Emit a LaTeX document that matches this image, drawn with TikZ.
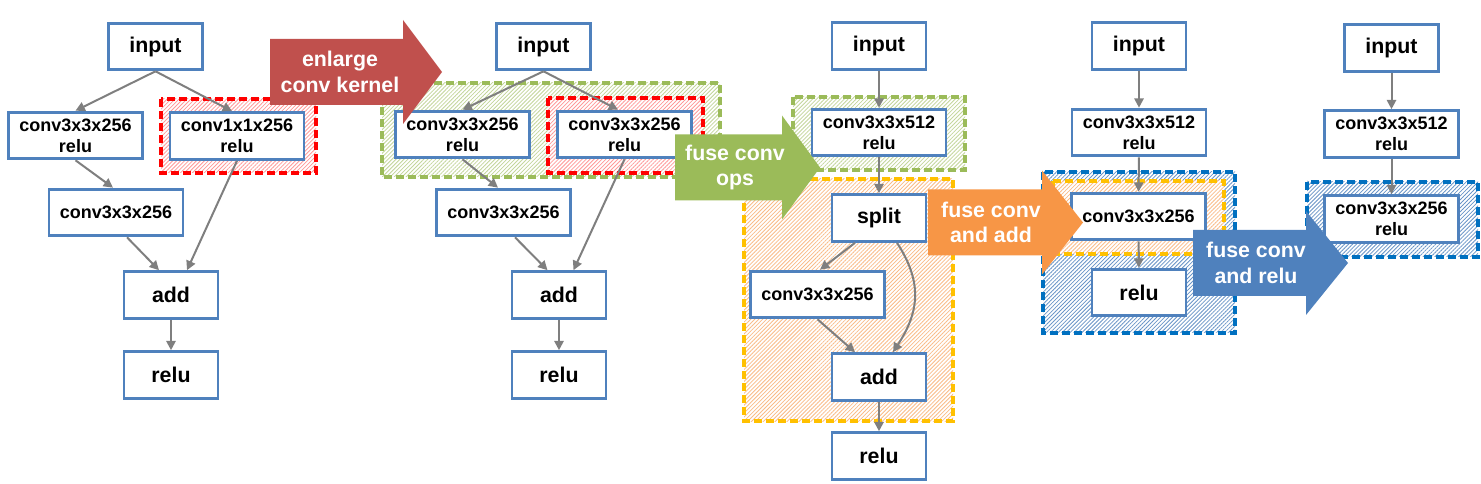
\documentclass[tikz,border=0pt]{standalone}
\usepackage{fontspec}
\setmainfont{Liberation Sans}
\usetikzlibrary{arrows.meta,calc,patterns.meta}

\definecolor{boxblue}{HTML}{4F81BD}
\definecolor{linegray}{HTML}{7F7F7F}
\definecolor{kernred}{HTML}{C0504D}
\definecolor{fusegreen}{HTML}{9BBB59}
\definecolor{fuseorange}{HTML}{F79646}
\definecolor{groupred}{HTML}{FF0000}
\definecolor{groupyellow}{HTML}{FFC000}
\definecolor{groupblue}{HTML}{0070C0}

\tikzset{
  op/.style={draw=boxblue, line width=2.2pt, fill=white, inner sep=0pt, align=center,
    font=\bfseries\fontsize{16}{19}\selectfont, minimum width=70.5pt, minimum height=35pt},
  conv/.style={op, font=\bfseries\fontsize{13.5}{15.5}\selectfont, minimum width=100.5pt},
  flow/.style={-{Triangle[length=7pt,width=7pt]}, draw=linegray, line width=1.5pt},
  groupbox/.style={dash pattern=on 6pt off 3pt, line width=2.3pt, preaction={fill=white}},
  hatch/.style={pattern={Lines[angle=45,distance=2.1pt,line width=0.6pt]}, pattern color=#1},
  bigtext/.style={text=white, align=center, inner sep=0pt, font=\bfseries\fontsize{16}{19}\selectfont}
}

\begin{document}
\begin{tikzpicture}[x=0.75pt, y=-0.75pt]
        \useasboundingbox (0,0) rectangle (1481,484);

        % fused groups
        \draw[groupbox, draw=groupred, hatch=groupred!40] (161,99) rectangle (316,173);
        \draw[groupbox, draw=fusegreen, hatch=fusegreen!60] (382,83) rectangle (720,177);
        \draw[groupbox, draw=groupred, hatch=groupred!40] (548,98) rectangle (703,173);
        \draw[groupbox, draw=fusegreen, hatch=fusegreen!60] (793,97) rectangle (965,170);
        \draw[groupbox, draw=groupyellow, hatch=fuseorange!65] (744,179) rectangle (953,421);
        \draw[groupbox, draw=groupblue, hatch=boxblue!85] (1043,172) rectangle (1235,333);
        \draw[groupbox, draw=groupyellow, hatch=fuseorange!65] (1053,181) rectangle (1224,254);
        \draw[groupbox, draw=groupblue, hatch=boxblue!85] (1307,182) rectangle (1478,257);

        % original graph
        \node[op] (in1) at (155.5,46.5) {input};
        \node[conv] (cl1) at (75.5,135.5) {conv3x3x256\\relu};
        \node[conv] (ck1) at (237,136) {conv1x1x256\\relu};
        \node[conv] (cm1) at (116,212.5) {conv3x3x256};
        \node[op] (add1) at (171,295) {add};
        \node[op] (relu1) at (171,375) {relu};

        \draw[flow] (in1.south) -- (cl1.north);
        \draw[flow] (in1.south) -- ($(ck1.north)+(-5,0)$);
        \draw[flow] (cl1.south) -- ($(cm1.north)+(-3,0)$);
        \draw[flow] ($(cm1.south)+(11,0)$) -- ($(add1.north)+(-12,0)$);
        \draw[flow] (ck1.south) -- ($(add1.north)+(16,0)$);
        \draw[flow] (add1) -- (relu1);

        % enlarged kernel
        \node[op] (in2) at (543.5,46.5) {input};
        \node[conv] (cl2) at (462.5,134.5) {conv3x3x256\\relu};
        \node[conv] (cr2) at (624.5,134.5) {conv3x3x256\\relu};
        \node[conv] (cm2) at (503.5,212.5) {conv3x3x256};
        \node[op] (add2) at (559,295) {add};
        \node[op] (relu2) at (559,375) {relu};

        \draw[flow] (in2.south) -- (cl2.north);
        \draw[flow] (in2.south) -- ($(cr2.north)+(-6.5,0)$);
        \draw[flow] (cl2.south) -- ($(cm2.north)+(-5.5,0)$);
        \draw[flow] ($(cm2.south)+(11.5,0)$) -- ($(add2.north)+(-11.5,0)$);
        \draw[flow] (cr2.south) -- ($(add2.north)+(14.5,0)$);
        \draw[flow] (add2) -- (relu2);

        % fused conv ops
        \node[op] (in3) at (879,46) {input};
        \node[conv] (cv3) at (879,132.5) {conv3x3x512\\relu};
        \node[op] (split3) at (879,218) {split};
        \node[conv] (cs3) at (817.5,294.5) {conv3x3x256};
        \node[op] (add3) at (879,377) {add};
        \node[op] (relu3) at (879,456) {relu};

        \draw[flow] (in3) -- (cv3);
        \draw[flow] (cv3) -- (split3);
        \draw[flow] ($(split3.south)+(-24,0)$) -- ($(cs3.north)+(2.5,0)$);
        \draw[flow] ($(split3.south)+(18,0)$) .. controls +(26,40) and +(26,-40) .. ($(add3.north)+(14,0)$);
        \draw[flow] (cs3.south) -- ($(add3.north)+(-24,0)$);
        \draw[flow] (add3) -- (relu3);

        % fused conv and add
        \node[op] (in4) at (1139,46) {input};
        \node[conv] (cv4) at (1139,132.5) {conv3x3x512\\relu};
        \node[conv] (cs4) at (1138.5,216.5) {conv3x3x256};
        \node[op] (relu4) at (1139,292.5) {relu};

        \draw[flow] (in4) -- (cv4);
        \draw[flow] (cv4) -- (cs4);
        \draw[flow] (cs4) -- (relu4);

        % fused conv and relu
        \node[op] (in5) at (1391.5,48) {input};
        \node[conv] (cv5) at (1391.5,134) {conv3x3x512\\relu};
        \node[conv] (cr5) at (1391.5,219) {conv3x3x256\\relu};

        \draw[flow] (in5) -- (cv5);
        \draw[flow] (cv5) -- (cr5);

        % transformation arrows
        \foreach \xl/\xb/\xt/\yc/\col/\tx/\txt in {
                270/403/442/72/kernred/340/{enlarge\\conv kernel},
                675/782/820/167.5/fusegreen/735/{fuse conv\\ops},
                928/1042/1083/222.5/fuseorange/991/{fuse conv\\and add},
                1193/1306/1348/263/boxblue/1256/{fuse conv\\and relu}} {
                \fill[\col] (\xl,\yc-33) -- (\xb,\yc-33) -- (\xb,\yc-52) -- (\xt,\yc)
                        -- (\xb,\yc+52) -- (\xb,\yc+33) -- (\xl,\yc+33) -- cycle;
                \node[bigtext] (step\col) at (\tx,\yc) {\txt};
            }
    \end{tikzpicture}
\end{document}
